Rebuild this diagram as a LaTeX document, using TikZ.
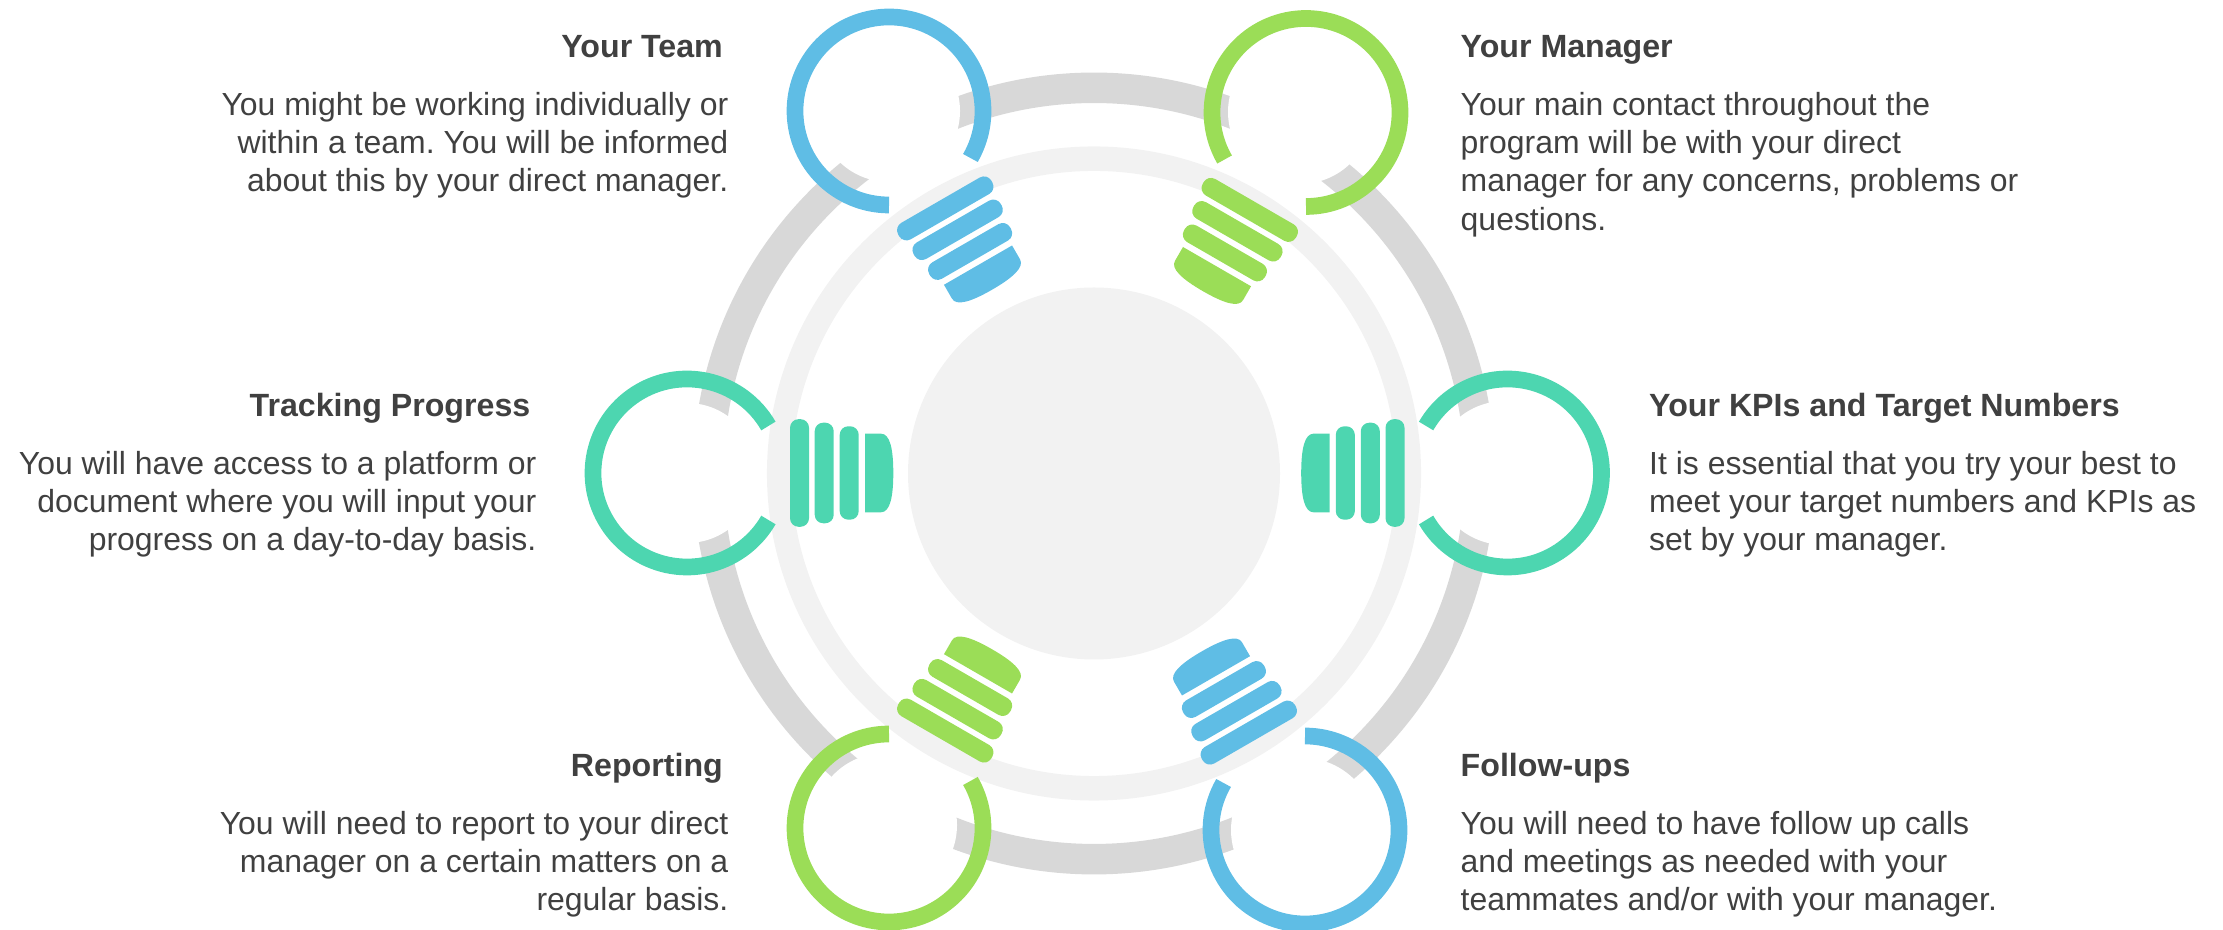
\documentclass[tikz,border=0pt]{standalone}
\usepackage{fontspec}
\setmainfont{Liberation Sans}
\usetikzlibrary{positioning}
\definecolor{ringgray}{HTML}{D8D8D8}
\definecolor{ringlight}{HTML}{F2F2F2}
\definecolor{bulbblue}{HTML}{5FBDE5}
\definecolor{bulbgreen}{HTML}{9BDD57}
\definecolor{bulbteal}{HTML}{4DD6B0}
\definecolor{textgray}{HTML}{404040}
\frenchspacing
\newcommand{\bulb}[4]{%
  \begin{scope}[shift={(#1,#2)}, rotate=#3]
    \draw[#4, line width=.167cm] (30:.94) arc[start angle=30, end angle=330, radius=.94];
    \fill[#4, rounded corners=.085cm] (1.03,-.538) rectangle (1.22,.538);
    \fill[#4, rounded corners=.085cm] (1.277,-.503) rectangle (1.467,.503);
    \fill[#4, rounded corners=.085cm] (1.527,-.467) rectangle (1.717,.467);
    \fill[#4] (1.78,-.393) -- (1.94,-.393) .. controls (2.03,-.393) and (2.063,-.24) .. (2.063,0)
      .. controls (2.063,.24) and (2.03,.393) .. (1.94,.393) -- (1.78,.393) -- cycle;
  \end{scope}}

\begin{document}
\begin{tikzpicture}[
    head/.style = {font=\fontsize{9.15}{11}\selectfont\bfseries, text=textgray, inner sep=0pt},
    bodytext/.style = {font=\fontsize{9.09}{10.9}\selectfont, text=textgray, inner sep=0pt}]
	\useasboundingbox (0,0) rectangle (22.23,9.30);
	\coordinate (c) at (10.94,4.565);
	% rings and hub
	\draw[ringgray, line width=.305cm] (c) circle (3.857);
	\draw[ringlight, line width=.245cm] (c) circle (3.148);
	\fill[ringlight] (c) circle (1.86);
	% white discs that cut the outer ring
	\fill[white] (8.89,8.19) circle (.71);
	\fill[white] (13.00,8.18) circle (.72);
	\fill[white] (6.87,4.57) circle (.70);
	\fill[white] (15.05,4.57) circle (.72);
	\fill[white] (8.85,1.05) circle (.72);
	\fill[white] (13.03,1.00) circle (.72);
	% bulbs
	\bulb{8.89}{8.19}{-60}{bulbblue}
	\bulb{13.06}{8.175}{-120}{bulbgreen}
	\bulb{6.87}{4.57}{0}{bulbteal}
	\bulb{15.075}{4.57}{180}{bulbteal}
	\bulb{8.89}{1.02}{60}{bulbgreen}
	\bulb{13.05}{1.00}{120}{bulbblue}
	% texts
	\node[head, anchor=base east] (teamhead) at (7.235,8.72) {Your Team};
	\node[bodytext, align=right, below left=.335 and -.055 of teamhead.base east] (teambody) {You might be working individually or\\within a team. You will be informed\\about this by your direct manager.};
	\node[head, anchor=base west] (managerhead) at (14.60,8.72) {Your Manager};
	\node[bodytext, align=left, below right=.335 and 0 of managerhead.base west] (managerbody) {Your main contact throughout the\\program will be with your direct\\manager for any concerns, problems or\\questions.};
	\node[head, anchor=base east] (trackinghead) at (5.31,5.13) {Tracking Progress};
	\node[bodytext, align=right, below left=.335 and -.06 of trackinghead.base east] (trackingbody) {You will have access to a platform or\\document where you will input your\\progress on a day-to-day basis.};
	\node[head, anchor=base west] (kpihead) at (16.485,5.13) {Your KPIs and Target Numbers};
	\node[bodytext, align=left, below right=.335 and 0 of kpihead.base west] (kpibody) {It is essential that you try your best to\\meet your target numbers and KPIs as\\set by your manager.};
	\node[head, anchor=base east] (reportinghead) at (7.235,1.53) {Reporting};
	\node[bodytext, align=right, below left=.335 and -.055 of reportinghead.base east] (reportingbody) {You will need to report to your direct\\manager on a certain matters on a\\regular basis.};
	\node[head, anchor=base west] (followhead) at (14.60,1.53) {Follow-ups};
	\node[bodytext, align=left, below right=.335 and 0 of followhead.base west] (followbody) {You will need to have follow up calls\\and meetings as needed with your\\teammates and/or with your manager.};
\end{tikzpicture}
\end{document}
